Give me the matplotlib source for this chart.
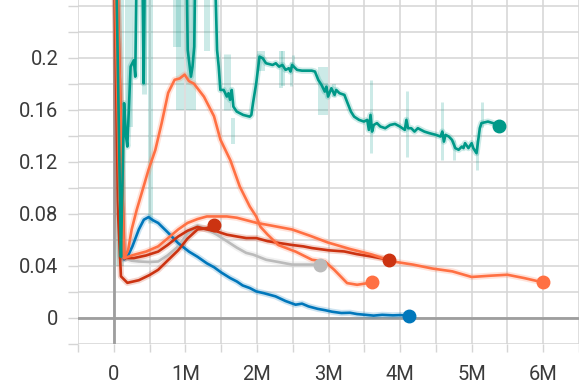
import numpy as np
import matplotlib.pyplot as plt
from matplotlib.ticker import FuncFormatter

plt.rcParams['font.family'] = ['Roboto', 'DejaVu Sans']

# ==== data (x in millions of steps) ====
blue_x = [0.01, 0.08, 0.144, 0.2, 0.26, 0.35, 0.42, 0.486, 0.55, 0.62, 0.75, 0.82, 0.9, 1.05, 1.17, 1.3, 1.4, 1.5, 1.625, 1.72, 1.8, 1.9, 1.99,
          2.1, 2.26, 2.4, 2.54, 2.63, 2.72, 2.85, 2.95, 3.05, 3.18, 3.3, 3.4, 3.5, 3.63, 3.75, 3.9, 4.0, 4.13]
blue_y = [0.30, 0.09, 0.045, 0.048, 0.055, 0.068, 0.0755, 0.0775, 0.075, 0.073, 0.066, 0.062, 0.0575, 0.051, 0.047, 0.042, 0.039, 0.035, 0.0307, 0.028,
          0.025, 0.023, 0.0204, 0.019, 0.0166, 0.013, 0.0102, 0.011, 0.0089, 0.007, 0.006, 0.0048, 0.0038, 0.004, 0.003, 0.0025, 0.0018, 0.0024, 0.002, 0.0022, 0.0018]

redA_x = [0.0, 0.02, 0.06, 0.1, 0.19, 0.27, 0.35, 0.5, 0.62, 0.75, 0.9, 1.03, 1.17, 1.3, 1.40]
redA_y = [0.30, 0.228, 0.08, 0.032, 0.027, 0.028, 0.029, 0.033, 0.037, 0.044, 0.052, 0.061, 0.068, 0.069, 0.0716]

redB_x = [0.01, 0.144, 0.28, 0.45, 0.62, 0.75, 0.9, 1.03, 1.17, 1.3, 1.44, 1.58, 1.72, 1.85, 1.99, 2.15, 2.31, 2.5, 2.65, 2.77,
          3.0, 3.22, 3.4, 3.59, 3.72, 3.84]
redB_y = [0.35, 0.046, 0.046, 0.048, 0.051, 0.056, 0.0626, 0.067, 0.070, 0.068, 0.0665, 0.064, 0.0626, 0.0614, 0.0614, 0.059, 0.0576,
          0.056, 0.055, 0.0537, 0.052, 0.0511, 0.049, 0.0473, 0.046, 0.0447]

gray_x = [0.01, 0.144, 0.25, 0.35, 0.5, 0.62, 0.75, 0.9, 1.03, 1.17, 1.3, 1.44, 1.58, 1.72, 1.85, 1.95, 2.13, 2.3, 2.49, 2.7, 2.88]
gray_y = [0.35, 0.046, 0.044, 0.0434, 0.043, 0.0434, 0.048, 0.055, 0.065, 0.071, 0.068, 0.064, 0.059, 0.054, 0.050, 0.0486, 0.0447,
          0.043, 0.041, 0.041, 0.041]

olong_x = [0.01, 0.144, 0.28, 0.45, 0.62, 0.75, 0.9, 1.03, 1.17, 1.3, 1.44, 1.58, 1.72, 1.86, 2.0, 2.2, 2.49, 2.75, 2.99, 3.3, 3.59,
           3.9, 4.18, 4.45, 4.73, 5.0, 5.27, 5.5, 5.73, 6.0]
olong_y = [0.35, 0.046, 0.0485, 0.051, 0.055, 0.061, 0.068, 0.073, 0.076, 0.078, 0.078, 0.078, 0.077, 0.075, 0.073, 0.071, 0.068,
           0.063, 0.058, 0.053, 0.049, 0.0434, 0.041, 0.038, 0.0358, 0.0315, 0.0325, 0.0332, 0.0307, 0.0273]

opeak_x = [0.0, 0.02, 0.08, 0.144, 0.2, 0.25, 0.32, 0.39, 0.486, 0.58, 0.67, 0.76, 0.85, 0.92, 0.99, 1.05, 1.12, 1.26, 1.40, 1.49,
           1.63, 1.76, 1.90, 1.99, 2.05, 2.15, 2.3, 2.54, 2.77, 2.95, 3.08, 3.26, 3.4, 3.61]
opeak_y = [0.35, 0.25, 0.09, 0.046, 0.052, 0.068, 0.083, 0.096, 0.114, 0.129, 0.150, 0.173, 0.183, 0.184, 0.187, 0.182, 0.180, 0.170,
           0.155, 0.137, 0.121, 0.101, 0.0856, 0.078, 0.070, 0.064, 0.056, 0.051, 0.0447, 0.0434, 0.037, 0.0268, 0.0255, 0.0273]

teal_x = [0.01, 0.1, 0.12, 0.144, 0.17, 0.189, 0.235, 0.28, 0.30, 0.326, 0.394, 0.417, 0.44, 1.01, 1.033, 1.078, 1.10, 1.124, 1.146,
          1.398, 1.443, 1.466, 1.489, 1.535, 1.58, 1.603, 1.625, 1.648, 1.671, 1.717, 1.762, 1.808, 1.899, 1.922, 1.945, 1.99, 2.036,
          2.082, 2.127, 2.219, 2.264, 2.309, 2.356, 2.401, 2.446, 2.469, 2.492, 2.515, 2.561, 2.629, 2.766, 2.811, 2.857, 2.903, 2.948,
          2.971, 2.994, 3.04, 3.085, 3.108, 3.153, 3.222, 3.267, 3.313, 3.358, 3.427, 3.495, 3.541, 3.564, 3.587, 3.609, 3.632, 3.677,
          3.724, 3.792, 3.861, 3.929, 3.997, 4.066, 4.088, 4.111, 4.156, 4.202, 4.248, 4.293, 4.339, 4.408, 4.498, 4.566, 4.59, 4.613,
          4.635, 4.681, 4.726, 4.772, 4.818, 4.863, 4.886, 4.908, 4.955, 5.0, 5.023, 5.068, 5.114, 5.137, 5.228, 5.297, 5.387]
teal_y = [0.35, 0.047, 0.10, 0.165, 0.14, 0.1317, 0.1931, 0.198, 0.1854, 0.30, 0.30, 0.1803, 0.30, 0.30, 0.2059, 0.1854, 0.1931,
          0.2084, 0.30, 0.30, 0.2059, 0.1931, 0.1752, 0.1752, 0.1701, 0.1727, 0.1676, 0.1752, 0.1624, 0.1586, 0.1573, 0.1560, 0.1547,
          0.1560, 0.1650, 0.1803, 0.2008, 0.1995, 0.1957, 0.1944, 0.1957, 0.1931, 0.1944, 0.1906, 0.1919, 0.1893, 0.1944, 0.1931,
          0.1906, 0.1900, 0.1900, 0.1893, 0.1829, 0.1790, 0.1739, 0.1777, 0.1701, 0.1765, 0.1714, 0.1752, 0.1727, 0.1714, 0.1650,
          0.1586, 0.1547, 0.1522, 0.1509, 0.1522, 0.1445, 0.1560, 0.1432, 0.1483, 0.1497, 0.1471, 0.1458, 0.1483, 0.1491, 0.1471,
          0.1445, 0.1522, 0.1458, 0.1458, 0.1432, 0.1458, 0.1445, 0.1432, 0.1420, 0.1407, 0.1394, 0.1432, 0.1355, 0.1407, 0.1394,
          0.1368, 0.1305, 0.1292, 0.1317, 0.1305, 0.1343, 0.1305, 0.1343, 0.1305, 0.1266, 0.1458, 0.1497, 0.1509, 0.1497, 0.1476]

# raw (unsmoothed) teal spikes: position, low, high, width in px
spike_x = [0.08, 0.21, 0.5, 0.42, 0.88, 0.93, 1.08, 1.3, 1.58, 1.67, 2.05, 2.33, 2.36, 2.47, 2.51, 2.92, 3.08, 3.59, 4.09, 4.59,
           4.75, 5.07, 5.14]
spike_lo = [0.04, 0.147, 0.073, 0.172, 0.208, 0.16, 0.16, 0.205, 0.16, 0.134, 0.19, 0.177, 0.178, 0.178, 0.193, 0.156, 0.17, 0.127,
            0.124, 0.1215, 0.121, 0.114, 0.147]
spike_hi = [0.25, 0.25, 0.25, 0.25, 0.25, 0.25, 0.25, 0.25, 0.203, 0.154, 0.205, 0.205, 0.205, 0.197, 0.202, 0.193, 0.18, 0.183,
            0.174, 0.166, 0.137, 0.137, 0.166]
spike_w = [8, 8, 5, 5, 8, 8, 10, 6, 7, 4, 8, 4, 4, 3, 3, 10, 4, 3, 3, 3, 3, 3, 3]

series = [
    (gray_x, gray_y, '#bbbbbb'),
    (blue_x, blue_y, '#0077bb'),
    (redA_x, redA_y, '#cc3311'),
    (redB_x, redB_y, '#cc3311'),
    (olong_x, olong_y, '#ff7043'),
    (opeak_x, opeak_y, '#ff7043'),
    (teal_x, teal_y, '#009988'),
]

fig = plt.figure(figsize=(5.79, 3.91), dpi=100)
ax = fig.add_axes([78 / 579, 1 - 344 / 391, 1 - 78 / 579, 344 / 391])
ax.set_xlim(-0.5e6, 6.354e6)
ax.set_ylim(-0.02, 0.2443)

for s in ax.spines.values():
    s.set_visible(False)

ax.set_xticks(np.arange(-0.5, 6.51, 0.5) * 1e6)
ax.set_yticks(np.arange(-0.02, 0.2401, 0.02))
ax.xaxis.set_major_formatter(FuncFormatter(
    lambda v, p: ("0" if abs(v) < 1 else f"{v / 1e6:.0f}M") if v >= 0 and abs(v / 1e6 - round(v / 1e6)) < 1e-6 else ""))
ax.yaxis.set_major_formatter(FuncFormatter(
    lambda v, p: (f"{v:g}" if -1e-9 < v < 0.23 and abs(v / 0.04 - round(v / 0.04)) < 1e-6 else "")))
ax.tick_params(axis='x', length=5.8, width=1, color='#d5d5d5', pad=9, labelsize=14.5, labelcolor='#3a3a3a')
ax.tick_params(axis='y', length=7.2, width=1, color='#d5d5d5', pad=7, labelsize=14.5, labelcolor='#3a3a3a')
ax.grid(True, color='#d5d5d5', lw=1.1)
ax.set_axisbelow(True)
ax.axhline(0, color='#9e9e9e', lw=2, zorder=1)
ax.axvline(0, color='#9e9e9e', lw=2, zorder=1)

for sx, lo, hi, w in zip(spike_x, spike_lo, spike_hi, spike_w):
    ax.vlines(sx * 1e6, lo, hi, color='#009988', lw=w * 0.72, alpha=0.2, zorder=2)

for xs, ys, c in series:
    xs = np.array(xs) * 1e6
    ax.plot(xs, ys, color=c, lw=4.5, alpha=0.2, zorder=2, solid_joinstyle='round')
    ax.plot(xs, ys, color=c, lw=1.9, zorder=3, solid_joinstyle='round')
    ax.plot(xs[-1], ys[-1], 'o', ms=9, color=c, zorder=4)

fig.savefig("out.png", dpi=100)
